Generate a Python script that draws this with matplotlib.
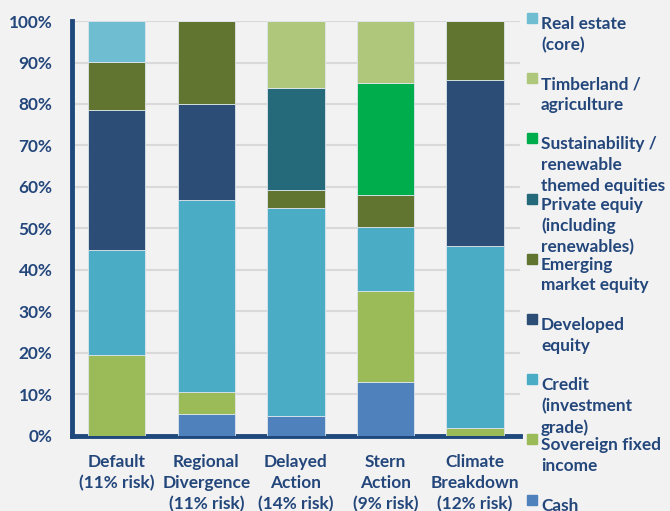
import matplotlib.pyplot as plt
from matplotlib.patches import Rectangle

# scénarios et parts (%)
scenarios = ["Default\n(11% risk)", "Regional\nDivergence\n(11% risk)", "Delayed\nAction\n(14% risk)",
             "Stern\nAction\n(9% risk)", "Climate\nBreakdown\n(12% risk)"]

cash = [0, 5.3, 4.7, 13.1, 0]
sovereign = [19.5, 5.3, 0, 21.8, 2.0]
credit = [25.3, 46.3, 50.2, 15.5, 43.8]
developed = [33.8, 23.1, 0, 0, 40.0]
emerging = [11.5, 20.0, 4.4, 7.7, 14.2]
private = [0, 0, 24.6, 0, 0]
sustainability = [0, 0, 0, 27.0, 0]
timberland = [0, 0, 16.1, 14.9, 0]
real_estate = [9.9, 0, 0, 0, 0]

# du bas vers le haut
series = [
    ("Cash", cash, "#4F81BD"),
    ("Sovereign fixed\nincome", sovereign, "#9BBB59"),
    ("Credit\n(investment\ngrade)", credit, "#4BACC6"),
    ("Developed\nequity", developed, "#2C4D75"),
    ("Emerging\nmarket equity", emerging, "#617430"),
    ("Private equiy\n(including\nrenewables)", private, "#256A7B"),
    ("Sustainability /\nrenewable\nthemed equities", sustainability, "#00AD4C"),
    ("Timberland /\nagriculture", timberland, "#AFC77B"),
    ("Real estate\n(core)", real_estate, "#6FBDD1"),
]

txt = "#23467B"
bg = "#F2F2F2"
fs = 12.4
plt.rcParams['font.family'] = ['Lato', 'DejaVu Sans']
plt.rcParams['font.weight'] = 'bold'

fig = plt.figure(figsize=(6.7, 5.11), dpi=100, facecolor=bg)
ax = fig.add_axes([0.1075, 0.1468, 0.6685, 0.8121])
ax.set_facecolor(bg)

x = range(len(scenarios))
bottom = [0] * len(scenarios)
for name, vals, col in series:
    ax.bar(x, vals, width=0.64, bottom=bottom, color=col, edgecolor="#dde5ec", linewidth=0.6, zorder=3)
    bottom = [b + v for b, v in zip(bottom, vals)]

ax.set_xlim(-0.5, 4.5)
ax.set_ylim(0, 100)
ax.set_yticks(range(0, 101, 10))
ax.set_yticklabels([f"{v}%" for v in range(0, 101, 10)])
ax.yaxis.grid(True, color="#D9D9D9", linewidth=1.5, zorder=0)
ax.set_xticks(list(x))
ax.set_xticklabels(scenarios, linespacing=1.36)
ax.tick_params(axis='y', length=0, pad=14, labelsize=fs, labelcolor=txt)
ax.tick_params(axis='x', length=0, pad=13, labelsize=fs, labelcolor=txt)
for lab in ax.get_xticklabels() + ax.get_yticklabels():
    lab.set_fontweight('bold')

for s in ["top", "right"]:
    ax.spines[s].set_visible(False)
for s in ["left", "bottom"]:
    ax.spines[s].set_color("#1F497D")
    ax.spines[s].set_linewidth(3.5)

# légende à droite, du haut vers le bas
W, H = 670, 511
for i, (name, vals, col) in enumerate(reversed(series)):
    ytop = 12 + i * 60.2
    fig.patches.append(Rectangle((527 / W, 1 - (ytop + 11) / H), 10 / W, 10 / H,
                                 transform=fig.transFigure, color=col, figure=fig))
    fig.text(541 / W, 1 - (ytop + 4) / H, name, ha='left', va='top', fontsize=fs,
             color=txt, fontweight='bold', linespacing=1.36)

fig.savefig("out.png", dpi=100, facecolor=bg)
